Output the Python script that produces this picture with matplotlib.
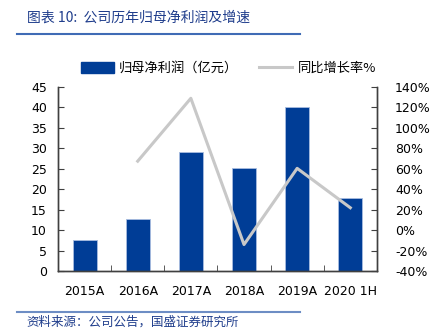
import matplotlib
matplotlib.use("Agg")
import matplotlib.pyplot as plt
from matplotlib.lines import Line2D
from matplotlib.patches import Patch
from matplotlib.ticker import FuncFormatter, FixedLocator
import numpy as np

plt.rcParams["font.family"] = ["DejaVu Sans", "Noto Sans CJK SC"]

categories = ["2015A", "2016A", "2017A", "2018A", "2019A", "2020 1H"]
net_profit = [7.7, 12.8, 29.1, 25.3, 40.0, 17.9]          # 亿元
growth_pct = [None, 67.5, 129.0, -14.0, 60.5, 22.0]       # %

BLUE = "#003d96"
GREY = "#c8c8c8"
AXC = "#404040"
CJK = ["Noto Sans CJK SC", "DejaVu Sans"]

fig = plt.figure(figsize=(4.46, 3.36), dpi=100)
ax = fig.add_axes([0.130, 0.193, 0.715, 0.548])
ax2 = ax.twinx()

x = np.arange(len(categories))
ax.bar(x, net_profit, width=0.45, color=BLUE, edgecolor="#a8bde0", linewidth=0.6, zorder=2)

gx = [i for i, v in zip(x, growth_pct) if v is not None]
gy = [v for v in growth_pct if v is not None]
ax2.plot(gx, gy, color=GREY, linewidth=2.2, zorder=3)

ax.set_xlim(-0.5, len(categories) - 0.5)
ax.set_ylim(0, 45)
ax.set_yticks(np.arange(0, 46, 5))
ax2.set_ylim(-40, 140)
ax2.set_yticks(np.arange(-40, 141, 20))
ax2.yaxis.set_major_formatter(FuncFormatter(lambda v, _: f"{v:.0f}%"))

ax.set_xticks(x)
ax.set_xticklabels(categories)
ax.xaxis.set_minor_locator(FixedLocator(x[:-1] + 0.5))
ax.tick_params(axis="x", which="major", length=0, pad=10, labelsize=9)
ax.tick_params(axis="x", which="minor", direction="in", length=4, color=AXC)
ax.tick_params(axis="y", direction="in", length=4, color=AXC, labelsize=9, pad=8)
ax2.tick_params(axis="y", direction="in", length=4, color=AXC, labelsize=9, pad=13)

for a in (ax, ax2):
    a.spines["top"].set_visible(False)
    for s in ("left", "right", "bottom"):
        a.spines[s].set_color(AXC)
        a.spines[s].set_linewidth(1.0)
ax.set_zorder(ax2.get_zorder() - 1)
ax.patch.set_visible(False)
ax2.patch.set_visible(False)

handles = [Patch(facecolor=BLUE, edgecolor=BLUE),
           Line2D([0], [0], color=GREY, linewidth=2.2)]
fig.legend(handles, ["归母净利润（亿元）", "同比增长率%"], loc="center",
           bbox_to_anchor=(0.512, 0.797), ncol=2, frameon=False,
           prop={"family": CJK, "size": 9.5}, handlelength=2.5,
           handleheight=0.9, columnspacing=1.6, handletextpad=0.4)

# title, source, and the blue rules
fig.text(0.060, 0.948, "图表 10:  公司历年归母净利润及增速", family=CJK,
         fontsize=10, color="#1f3d8c", ha="left", va="center", style="italic")
fig.add_artist(Line2D([0.038, 0.673], [0.899, 0.899], color="#3f6bb5", linewidth=1.5))
fig.add_artist(Line2D([0.038, 0.673], [0.071, 0.071], color="#6d8dc4", linewidth=1.5))
fig.text(0.060, 0.040, "资料来源：公司公告，国盛证券研究所", family=CJK,
         fontsize=9, color="#1f3d8c", ha="left", va="center", style="italic")

fig.savefig("out.png", dpi=100)
